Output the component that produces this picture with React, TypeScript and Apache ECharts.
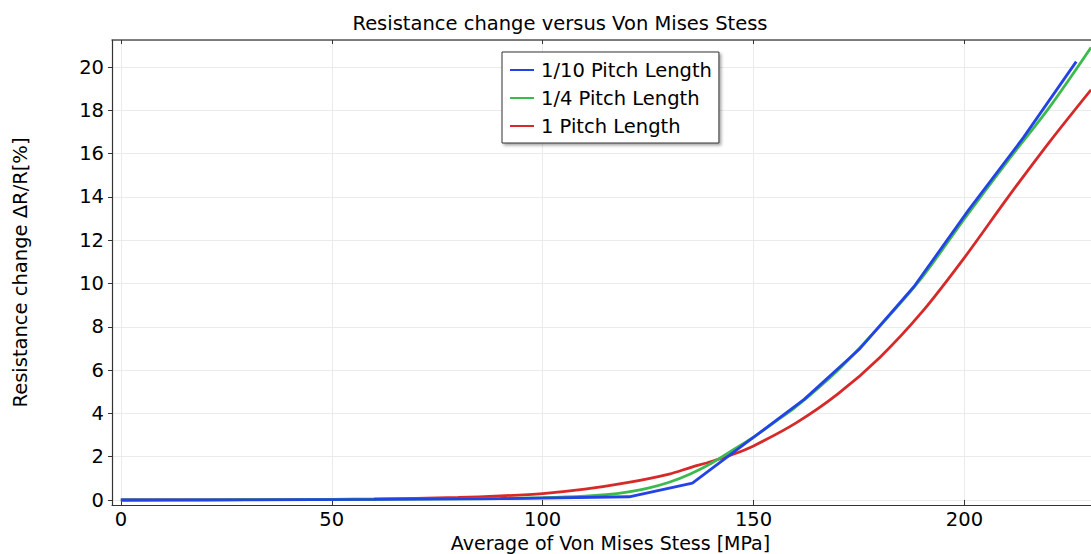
import React, { useEffect, useRef } from "react";
import * as echarts from "echarts";

const TITLE = "Resistance change versus Von Mises Stess";
const X_NAME = "Average of Von Mises Stess [MPa]";
const Y_NAME = "Resistance change \u0394R/R[%]";
const SERIES_NAMES = ["1/10 Pitch Length", "1/4 Pitch Length", "1 Pitch Length"];
const COLORS = ["#2343e6", "#3dba4e", "#d62a2a"];

const blueX = [0, 30, 60, 90, 120.5, 135.5, 149, 162, 175, 188, 201, 214, 226.5];
const blueY = [0, 0.01, 0.03, 0.06, 0.15, 0.78, 2.75, 4.65, 6.95, 9.85, 13.4, 16.75, 20.25];

const greenX = [0, 20, 40, 60, 80, 90, 100, 110, 115, 120, 125, 130, 135, 140, 145, 150, 155, 160, 170, 180, 190, 200, 210, 220, 230];
const greenY = [0, 0.01, 0.02, 0.03, 0.05, 0.07, 0.11, 0.18, 0.25, 0.37, 0.55, 0.82, 1.2, 1.7, 2.3, 2.9, 3.6, 4.3, 6.0, 8.05, 10.3, 13.0, 15.6, 18.1, 20.9];

const redX = [0, 20, 40, 60, 80, 90, 100, 110, 120, 130, 135, 140, 145, 150, 160, 170, 180, 190, 200, 210, 220, 230];
const redY = [0, 0.01, 0.02, 0.05, 0.12, 0.19, 0.3, 0.5, 0.8, 1.2, 1.5, 1.78, 2.1, 2.5, 3.55, 4.9, 6.6, 8.7, 11.2, 13.9, 16.5, 18.95];

const X_MIN = -2.1;
const X_MAX = 230;
const Y_MIN = -0.23;
const Y_MAX = 21.25;

const zip = (xs: number[], ys: number[]) => xs.map((x, i) => [x, ys[i]]);

export default function App() {
  const ref = useRef<HTMLDivElement>(null);
  useEffect(() => {
    document.body.style.margin = "0";
    const chart = echarts.init(ref.current!, null, { renderer: "svg" });
    const reg = "DejaVu Sans, sans-serif";
    const fs = 19.5;
    const fmtX = (v: number) => (Math.abs(v % 50) < 1e-6 ? String(v) : "");
    const fmtY = (v: number) => (Math.abs(v % 2) < 1e-6 ? String(v) : "");
    const datasets = [zip(blueX, blueY), zip(greenX, greenY), zip(redX, redY)];
    chart.setOption({
      animation: false,
      backgroundColor: "#ffffff",
      title: {
        text: TITLE,
        left: 555,
        textAlign: "center",
        top: 8,
        textStyle: { fontFamily: reg, fontSize: fs, fontWeight: "normal", color: "#000" },
      },
      legend: {
        orient: "vertical",
        left: 502,
        top: 52,
        padding: [8, 7, 7, 8],
        itemGap: 8,
        itemWidth: 24,
        itemHeight: 2,
        icon: "rect",
        backgroundColor: "#fff",
        borderColor: "#333",
        borderWidth: 1,
        shadowColor: "rgba(0,0,0,0.35)",
        shadowBlur: 3,
        shadowOffsetX: 2,
        shadowOffsetY: 2,
        textStyle: { fontFamily: reg, fontSize: fs, lineHeight: 20, color: "#000", padding: [0, 0, 0, 2] },
        data: SERIES_NAMES,
      },
      grid: { left: 112, top: 40, right: 0, bottom: 49, containLabel: false, outerBoundsMode: "none" },
      xAxis: [
        {
          type: "value",
          min: X_MIN,
          max: X_MAX,
          splitNumber: 5,
          minInterval: 50,
          maxInterval: 50,
          name: X_NAME,
          nameLocation: "middle",
          nameGap: 21,
          nameTextStyle: { fontFamily: reg, fontSize: 19, color: "#000", padding: [0, 0, 0, 18] },
          axisLine: { show: true, onZero: false, lineStyle: { color: "#333", width: 1.2 } },
          axisTick: { show: true, inside: true, length: 5, lineStyle: { color: "#333" } },
          axisLabel: {
            formatter: fmtX,
            showMinLabel: false,
            showMaxLabel: false,
            margin: 4,
            fontFamily: reg,
            fontSize: fs,
            color: "#000",
          },
          splitLine: { show: true, lineStyle: { color: "#ebebeb", width: 1 } },
        },
        {
          type: "value",
          position: "top",
          min: X_MIN,
          max: X_MAX,
          splitNumber: 5,
          minInterval: 50,
          maxInterval: 50,
          axisLine: { show: true, onZero: false, lineStyle: { color: "#555", width: 1.5 } },
          axisTick: { show: true, inside: true, length: 4, lineStyle: { color: "#333" } },
          axisLabel: { show: false },
          splitLine: { show: false },
        },
      ],
      yAxis: {
        type: "value",
        min: Y_MIN,
        max: Y_MAX,
        splitNumber: 10,
        minInterval: 2,
        maxInterval: 2,
        name: Y_NAME,
        nameLocation: "middle",
        nameGap: 82,
        nameTextStyle: { fontFamily: reg, fontSize: fs, color: "#000" },
        axisLine: { show: true, onZero: false, lineStyle: { color: "#333", width: 1.2 } },
        axisTick: { show: true, inside: false, length: 4, lineStyle: { color: "#333" } },
        axisLabel: {
          formatter: fmtY,
          showMinLabel: false,
          showMaxLabel: false,
          margin: 8,
          fontFamily: reg,
          fontSize: fs,
          color: "#000",
        },
        splitLine: { show: true, lineStyle: { color: "#ebebeb", width: 1 } },
      },
      series: SERIES_NAMES.map((name, i) => ({
        name,
        type: "line",
        xAxisIndex: 0,
        data: datasets[i],
        showSymbol: false,
        symbol: "none",
        smooth: i === 0 ? false : 0.3,
        clip: true,
        color: COLORS[i],
        lineStyle: { color: COLORS[i], width: 2.8 },
        z: 3 - i,
      })),
    });
    return () => chart.dispose();
  }, []);
  return <div ref={ref} style={{ width: 1091, height: 554 }} />;
}
